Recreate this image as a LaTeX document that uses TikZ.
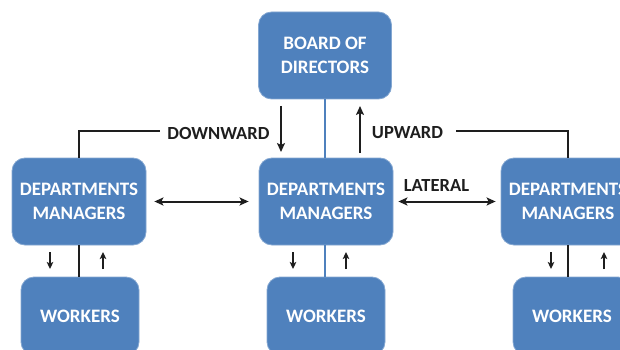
\documentclass[tikz,border=0pt]{standalone}
\usepackage{fontspec}
\setmainfont{Carlito}
\usetikzlibrary{arrows.meta}
\definecolor{boxblue}{RGB}{79,129,189}
\definecolor{ink}{RGB}{30,30,30}
\begin{document}
\begin{tikzpicture}[x=1pt,y=-1pt,
  box/.style={fill=boxblue, draw=boxblue!70!white, line width=0.8pt, rounded corners=13pt,
    text=white, font=\fontsize{19}{24}\selectfont\bfseries, align=center,
    inner sep=0pt},
  dept/.style={box, minimum width=134pt, minimum height=87pt},
  wrk/.style={box, minimum width=118pt, minimum height=78pt},
  lbl/.style={text=ink, font=\fontsize{18.5}{22}\selectfont\bfseries, inner sep=0pt},
  link/.style={draw=ink, line width=2pt},
  axis/.style={draw=boxblue, line width=1.6pt},
  flow/.style={draw=ink, line width=2pt, -{Stealth[length=9pt,width=8pt,inset=2pt]}},
  twoway/.style={draw=ink, line width=2pt, {Stealth[length=9pt,width=8pt,inset=2pt]}-{Stealth[length=9pt,width=8pt,inset=2pt]}},
  tiny/.style={draw=ink, line width=1.8pt, -{Stealth[length=7pt,width=6.5pt,inset=1.5pt]}}]
\useasboundingbox (0,0) rectangle (620,350);
\clip (0,0) rectangle (620,350);

% boxes
\node[box, minimum width=133pt, minimum height=87pt] (board) at (325,55.5) {BOARD OF\\DIRECTORS};
\node[dept] (dmL) at (79,201.5) {DEPARTMENTS\\MANAGERS};
\node[dept] (dmC) at (326,201.5) {DEPARTMENTS\\MANAGERS};
\node[dept] (dmR) at (568,201.5) {DEPARTMENTS\\MANAGERS};
\node[wrk] (wL) at (80,316) {WORKERS};
\node[wrk] (wC) at (326,316) {WORKERS};
\node[wrk] (wR) at (572,316) {WORKERS};

% labels
\node[lbl] (down) at (218.5,133) {DOWNWARD};
\node[lbl] (up) at (407.5,133) {UPWARD};
\node[lbl] (lat) at (436.5,186) {LATERAL};

% vertical spine
\draw[axis] (board.south) -- (board.south |- dmC.north);
\draw[axis] (dmC.south -| board.south) -- (wC.north -| board.south);

% side connections to the board level
\coordinate (dlEnd) at (160,131);
\coordinate (urStart) at (456,131);
\draw[link] (dmL.north) |- (dlEnd);
\draw[link] (urStart) -| (dmR.north);
\draw[link] (dmL.south) -- (dmL.south |- wL.north);
\draw[link] (dmR.south) -- (dmR.south |- wR.north);

% downward / upward arrows
\coordinate (dTop) at (281,106);
\coordinate (dBot) at (281,152);
\coordinate (uBot) at (360,153);
\coordinate (uTop) at (360,106);
\draw[flow] (dTop) -- (dBot);
\draw[flow] (uBot) -- (uTop);

% lateral arrows
\draw[twoway, shorten <=8pt, shorten >=10pt] (dmL.east) -- (dmC.west);
\draw[twoway, shorten <=5pt, shorten >=5pt] (dmC.east) -- (dmR.west);

% small arrows between managers and workers
\foreach \xd/\xu [count=\i] in {50/103, 293/346, 551/604} {
  \coordinate (sd\i a) at (\xd,252);
  \coordinate (sd\i b) at (\xd,269);
  \coordinate (su\i a) at (\xu,269);
  \coordinate (su\i b) at (\xu,252);
  \draw[tiny] (sd\i a) -- (sd\i b);
  \draw[tiny] (su\i a) -- (su\i b);
}
\end{tikzpicture}
\end{document}
